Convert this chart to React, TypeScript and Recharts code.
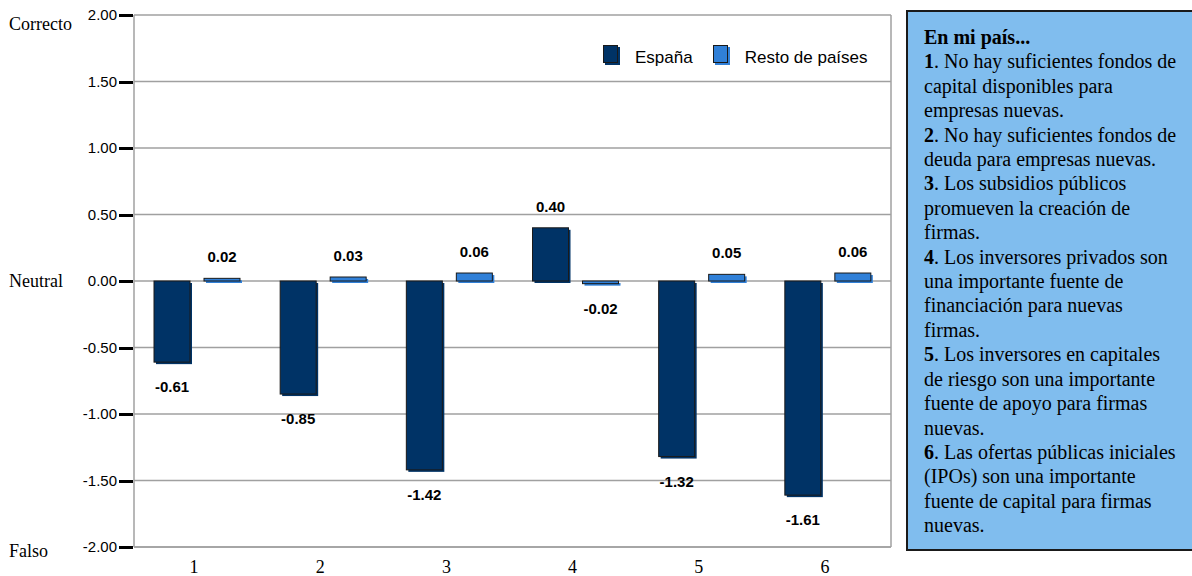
import React from 'react';
import {
  Bar,
  BarChart,
  CartesianGrid,
  LabelList,
  XAxis,
  YAxis,
} from 'recharts';

// Valoración media de cada afirmación (escala -2 falso … +2 correcto)
const categories = ['1', '2', '3', '4', '5', '6'];
const espana = [-0.61, -0.85, -1.42, 0.4, -1.32, -1.61];
const resto = [0.02, 0.03, 0.06, -0.02, 0.05, 0.06];
const yTicks = [-2, -1.5, -1, -0.5, 0, 0.5, 1, 1.5, 2];
const sideLabels = [
  { value: 2, text: 'Correcto' },
  { value: 0, text: 'Neutral' },
  { value: -2, text: 'Falso' },
];

const notes = [
  { num: '1', lines: ['. No hay suficientes fondos de', 'capital disponibles para', 'empresas nuevas.'] },
  { num: '2', lines: ['. No hay suficientes fondos de', 'deuda para empresas nuevas.'] },
  { num: '3', lines: ['. Los subsidios públicos', 'promueven la creación de', 'firmas.'] },
  { num: '4', lines: ['. Los inversores privados son', 'una importante fuente de', 'financiación para nuevas', 'firmas.'] },
  { num: '5', lines: ['. Los inversores en capitales', 'de riesgo son una importante', 'fuente de apoyo para firmas', 'nuevas.'] },
  { num: '6', lines: ['. Las ofertas públicas iniciales', '(IPOs) son una importante', 'fuente de capital para firmas', 'nuevas.'] },
];

const ESPANA = '#003366';
const RESTO = '#3080d8';
const SANS = '"Liberation Sans", Arial, sans-serif';
const SERIF = '"Liberation Serif", "Times New Roman", serif';

const series = [
  { key: 'espana', name: 'España', color: ESPANA },
  { key: 'resto', name: 'Resto de países', color: RESTO },
];

const data = categories.map((c, i) => ({ cat: c, espana: espana[i], resto: resto[i] }));

function ShadowBar(props: any) {
  const { x, y, width, height, fill } = props;
  const top = Math.min(y, y + height);
  const h = Math.abs(height);
  return (
    <g>
      <rect x={x + 2} y={top + 2} width={width} height={h} fill={fill} />
      <rect x={x} y={top} width={width} height={h} fill={fill} stroke="#1a1a1a" strokeWidth={1} />
    </g>
  );
}

function ValueLabel(props: any) {
  const { x, y, width, height, value } = props;
  const top = Math.min(y, y + height);
  const bottom = Math.max(y, y + height);
  const ty = value < 0 ? bottom + 30 : top - 16;
  return (
    <text
      x={x + width / 2}
      y={ty}
      textAnchor="middle"
      fontFamily={SANS}
      fontSize={15}
      fontWeight="bold"
      fill="#000"
    >
      {Number(value).toFixed(2)}
    </text>
  );
}

function YTick(props: any) {
  const { x, y, payload } = props;
  const side = sideLabels.find((s) => s.value === payload.value);
  const shift = payload.value === 2 ? 9 : payload.value === -2 ? 4 : 0;
  const ty = Math.round(y) + 0.5;
  return (
    <g>
      <line x1={x + 2} x2={x + 16} y1={ty} y2={ty} stroke="#000" strokeWidth={3} />
      <text x={x} y={y} dy="0.35em" textAnchor="end" fontFamily={SANS} fontSize={15} fill="#000">
        {Number(payload.value).toFixed(2)}
      </text>
      {side && (
        <text x={9} y={y + shift} dy="0.35em" textAnchor="start" fontFamily={SERIF} fontSize={18} fill="#000">
          {side.text}
        </text>
      )}
    </g>
  );
}

function XTick(props: any) {
  const { x, y, payload } = props;
  return (
    <text x={x - 3} y={y} dy={26} textAnchor="middle" fontFamily={SERIF} fontSize={18} fill="#000">
      {payload.value}
    </text>
  );
}

function ChartLegend() {
  return (
    <div
      style={{
        position: 'absolute',
        left: 603,
        top: 44,
        display: 'flex',
        alignItems: 'center',
        fontFamily: SANS,
        fontSize: 17,
      }}
    >
      {series.map((s) => (
        <div key={s.key} style={{ display: 'flex', alignItems: 'center', marginRight: 20 }}>
          <span
            style={{
              display: 'inline-block',
              width: 13,
              height: 16,
              background: s.color,
              border: '1px solid #1a1a1a',
              boxShadow: `2px 2px 0 ${s.color}`,
              marginRight: 17,
              marginTop: -4,
            }}
          />
          <span style={{ marginTop: 4 }}>{s.name}</span>
        </div>
      ))}
    </div>
  );
}

export default function App() {
  return (
    <div style={{ position: 'absolute', left: 0, top: 0, width: 1192, height: 576, background: '#fff', overflow: 'hidden' }}>
      <BarChart
        width={1192}
        height={576}
        data={data}
        margin={{ top: 15, right: 301, left: 0, bottom: 0 }}
        barSize={36}
        barGap={14}
      >
        <CartesianGrid
          stroke="#a0a0a0"
          strokeWidth={1.5}
          verticalCoordinatesGenerator={({ offset }: any) => [offset.left + offset.width]}
        />
        <XAxis
          dataKey="cat"
          height={29}
          tickLine={false}
          tickSize={0}
          tickMargin={0}
          axisLine={{ stroke: '#a0a0a0', strokeWidth: 1.5 }}
          tick={<XTick />}
        />
        <YAxis
          width={134}
          domain={[-2, 2]}
          ticks={yTicks}
          interval={0}
          tickSize={14}
          tickMargin={3}
          tickLine={false}
          axisLine={{ stroke: '#a0a0a0', strokeWidth: 1.5 }}
          tick={<YTick />}
        />
        {series.map((s) => (
          <Bar
            key={s.key}
            dataKey={s.key}
            name={s.name}
            fill={s.color}
            shape={<ShadowBar />}
            isAnimationActive={false}
          >
            <LabelList dataKey={s.key} content={<ValueLabel />} />
          </Bar>
        ))}
      </BarChart>
      <ChartLegend />
      <div
        style={{
          position: 'absolute',
          left: 906,
          top: 10,
          width: 300,
          height: 541,
          boxSizing: 'border-box',
          background: '#80bdee',
          border: '2px solid #1a1a1a',
          padding: '13px 0 0 16px',
          fontFamily: SERIF,
          fontSize: 20,
          lineHeight: '24.4px',
          color: '#000',
          whiteSpace: 'nowrap',
        }}
      >
        <div style={{ fontWeight: 'bold' }}>En mi país...</div>
        {notes.map((n) => (
          <div key={n.num}>
            {n.lines.map((line, i) => (
              <div key={i}>
                {i === 0 && <b>{n.num}</b>}
                {line}
              </div>
            ))}
          </div>
        ))}
      </div>
    </div>
  );
}
